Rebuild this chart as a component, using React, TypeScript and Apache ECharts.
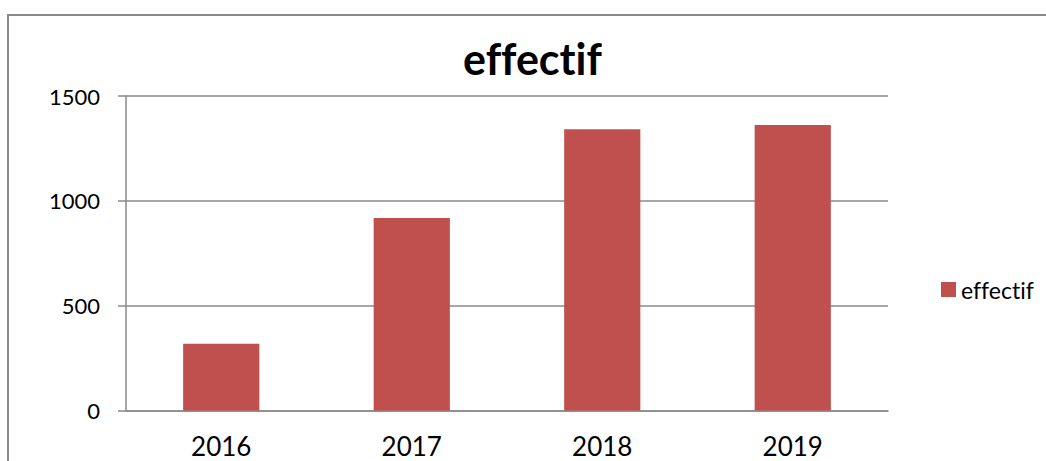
import React, { useEffect, useRef } from "react";
import * as echarts from "echarts";

const categories = ["2016", "2017", "2018", "2019"];
const seriesName = "effectif";
const values = [318, 918, 1342, 1362];
const yTicks = [0, 500, 1000, 1500];

export default function App() {
  const ref = useRef<HTMLDivElement>(null);
  useEffect(() => {
    document.body.style.margin = "0";
    const chart = echarts.init(ref.current!, null, { renderer: "svg" });
    const font = "Lato, 'Noto Sans', sans-serif";
    chart.setOption({
      animation: false,
      backgroundColor: "#ffffff",
      textStyle: { fontFamily: font },
      title: {
        text: seriesName,
        left: 463,
        top: 37,
        padding: 0,
        textStyle: { fontFamily: font, fontSize: 43, fontWeight: "bold", color: "#000" },
      },
      graphic: [
        {
          type: "rect",
          shape: { x: 8, y: 15, width: 1200, height: 600 },
          style: { fill: "none", stroke: "#8a8a8a", lineWidth: 2 },
          silent: true,
        },
      ],
      legend: {
        data: [seriesName],
        left: 936,
        top: 273,
        itemWidth: 15,
        itemHeight: 15,
        itemGap: 6,
        icon: "rect",
        textStyle: { fontFamily: font, fontSize: 23, color: "#000" },
      },
      grid: { left: 126, right: 158, top: 96, bottom: 50.5, containLabel: false },
      xAxis: {
        type: "category",
        data: categories,
        axisLine: { show: true, lineStyle: { color: "#8a8a8a", width: 1.5 } },
        axisTick: { show: false },
        axisLabel: { fontFamily: font, fontSize: 26, color: "#000", margin: 22 },
      },
      yAxis: {
        type: "value",
        min: yTicks[0],
        max: yTicks[yTicks.length - 1],
        interval: 500,
        axisLine: { show: true, lineStyle: { color: "#8a8a8a", width: 1.5 } },
        axisTick: { show: true, length: 8, lineStyle: { color: "#8a8a8a", width: 1.5 } },
        splitLine: { show: true, lineStyle: { color: "#8a8a8a", width: 1.5 } },
        axisLabel: {
          fontFamily: font,
          fontSize: 22,
          color: "#000",
          margin: 26,
          formatter: (v: number) => String(v),
        },
      },
      series: [
        {
          name: seriesName,
          type: "bar",
          data: values,
          barWidth: "40%",
          itemStyle: { color: "#C0504D" },
        },
      ],
    });
    return () => chart.dispose();
  }, []);
  return (
    <div
      ref={ref}
      style={{ width: 1046, height: 461, fontVariantLigatures: "none", fontFeatureSettings: '"liga" 0, "clig" 0' }}
    />
  );
}
